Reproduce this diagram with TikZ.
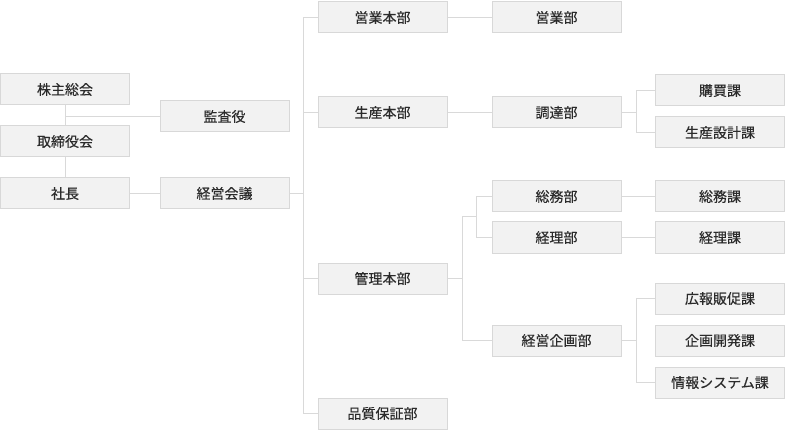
\documentclass[tikz,border=0pt]{standalone}
\usepackage{fontspec}
\setmainfont{Noto Sans CJK JP}[FakeBold=0.3]
\usetikzlibrary{calc}
\definecolor{boxfill}{HTML}{F2F2F2}
\definecolor{boxline}{HTML}{D8D8D8}
\definecolor{connline}{HTML}{D9D9D9}
\definecolor{txt}{HTML}{2B2B2B}
\begin{document}
\begin{tikzpicture}[x=1pt,y=-1pt,
  orgbox/.style={draw=boxline,fill=boxfill,line width=1pt,minimum width=129pt,minimum height=31pt,
    inner sep=0pt,text=txt,font=\fontsize{14}{16}\selectfont},
  conn/.style={draw=connline,line width=1pt}]
\useasboundingbox (0,0) rectangle (786,430);
% column 1
\node[orgbox] (A) at (65,89.5) {株主総会};
\node[orgbox] (B) at (65,141.5) {取締役会};
\node[orgbox] (C) at (65,193.5) {社長};
% column 2
\node[orgbox] (D) at (224.5,116.5) {監査役};
\node[orgbox] (E) at (224.5,193.5) {経営会議};
% column 3
\node[orgbox] (F) at (382.5,17.5) {営業本部};
\node[orgbox] (G) at (382.5,112.5) {生産本部};
\node[orgbox] (H) at (382.5,278.5) {管理本部};
\node[orgbox] (I) at (382.5,413.5) {品質保証部};
% column 4
\node[orgbox] (J) at (556.5,17.5) {営業部};
\node[orgbox] (K) at (556.5,112.5) {調達部};
\node[orgbox] (L) at (556.5,196.5) {総務部};
\node[orgbox] (M) at (556.5,237.5) {経理部};
\node[orgbox] (N) at (556.5,340.5) {経営企画部};
% column 5
\node[orgbox] (O) at (720,90.5) {購買課};
\node[orgbox] (P) at (720,132.5) {生産設計課};
\node[orgbox] (Q) at (720,196.5) {総務課};
\node[orgbox] (R) at (720,237.5) {経理課};
\node[orgbox] (S) at (720,298.5) {広報販促課};
\node[orgbox] (T) at (720,340.5) {企画開発課};
\node[orgbox] (U) at (720,382.5) {情報システム課};
% trunk coordinates
\coordinate (tr) at (303,0);
\coordinate (kb) at (462,0);
\coordinate (kb2) at (476,0);
\coordinate (rb) at (636,0);
% connectors
\path[conn] (A) -- (B);
\path[conn] (B) -- (C);
\path[conn] (A.south |- D.west) -- (D.west);
\path[conn] (C) -- (E);
\path[conn] (E.east) -- (E.east -| tr);
\path[conn] (F.west) -- (F.west -| tr) -- (I.west -| tr) -- (I.west);
\path[conn] (G.west) -- (G.west -| tr);
\path[conn] (H.west) -- (H.west -| tr);
\path[conn] (F) -- (J);
\path[conn] (G) -- (K);
\path[conn] (K.east) -- (K.east -| rb);
\path[conn] (O.west) -- (O.west -| rb) -- (P.west -| rb) -- (P.west);
\path[conn] (H.east) -- (H.east -| kb);
\path[conn] (L.west) -- (L.west -| kb2) -- (M.west -| kb2) -- (M.west);
\coordinate (km) at ($(L.west -| kb2)!0.5!(M.west -| kb2)$);
\path[conn] (km) -- (km -| kb) -- (N.west -| kb) -- (N.west);
\path[conn] (L) -- (Q);
\path[conn] (M) -- (R);
\path[conn] (N.east) -- (N.east -| rb);
\path[conn] (S.west) -- (S.west -| rb) -- (U.west -| rb) -- (U.west);
\end{tikzpicture}
\end{document}
